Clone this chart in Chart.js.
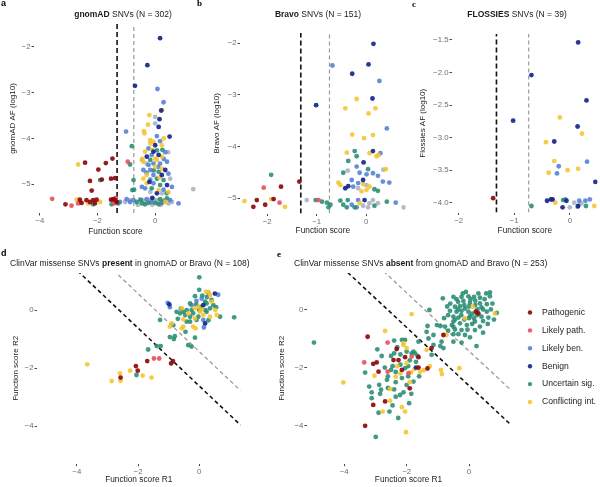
<!DOCTYPE html>
<html><head><meta charset="utf-8">
<script src="https://cdn.jsdelivr.net/npm/chart.js@4/dist/chart.umd.min.js"></script>
<style>
html,body{margin:0;padding:0;background:#fff;}
#fig{position:relative;width:600px;height:487px;overflow:hidden;font-family:"Liberation Sans",Arial,sans-serif;}
canvas{position:absolute;}
.t{position:absolute;font-size:8.5px;color:#1a1a1a;white-space:nowrap;line-height:1;}
.c{transform:translate(-50%,-50%);}
.l{transform:translateY(-50%);}
.lt{position:absolute;font-weight:bold;font-size:9px;color:#000;line-height:1;}
</style></head><body>
<div id="fig">
<canvas id="ca" width="200" height="245" style="left:0;top:0"></canvas>
<canvas id="cb" width="208" height="245" style="left:200px;top:0"></canvas>
<canvas id="cc" width="192" height="245" style="left:408px;top:0"></canvas>
<canvas id="cd" width="250" height="237" style="left:0;top:250px"></canvas>
<canvas id="ce" width="330" height="237" style="left:270px;top:250px"></canvas>
<div class="lt" style="left:1px;top:-1px">a</div>
<div class="lt" style="left:197px;top:-1px;font-family:'Liberation Serif'">b</div>
<div class="lt" style="left:412px;top:0px;font-family:'Liberation Serif'">c</div>
<div class="lt" style="left:1px;top:249px">d</div>
<div class="lt" style="left:277px;top:250px;font-family:'Liberation Serif'">e</div>
<div class="t c" style="left:123px;top:14px"><b>gnomAD</b> SNVs (N = 302)</div>
<div class="t c" style="left:318px;top:14px"><b>Bravo</b> SNVs (N = 151)</div>
<div class="t c" style="left:517px;top:14px"><b>FLOSSIES</b> SNVs (N = 39)</div>
<div class="t l" style="left:10px;top:263px">ClinVar missense SNVs <b>present</b> in gnomAD or Bravo (N = 108)</div>
<div class="t l" style="left:294px;top:263px">ClinVar missense SNVs <b>absent</b> from gnomAD and Bravo (N = 253)</div>
</div>
<script>
// ---------------- data ----------------
const THRESH = [-1.32, -0.74];      // vertical thresholds (black, grey)
const DIAG = [-2.62, -1.43];        // R1 + R2 thresholds (black, grey)

const aXTicks = [-4, -2, 0], aXLabels = ["−4", "−2", "0"];
const aYTicks = [-2, -3, -4, -5], aYLabels = ["−2", "−3", "−4", "−5"];
const bXTicks = [-2, -1, 0], bXLabels = ["−2", "−1", "0"];
const bYTicks = [-2, -3, -4, -5], bYLabels = ["−2", "−3", "−4", "−5"];
const cXTicks = [-2, -1, 0], cXLabels = ["−2", "−1", "0"];
const cYTicks = [-1.5, -2, -2.5, -3, -3.5, -4], cYLabels = ["−1.5", "−2.0", "−2.5", "−3.0", "−3.5", "−4.0"];
const deXTicks = [-4, -2, 0], deXLabels = ["−4", "−2", "0"];
const deYTicks = [0, -2, -4], deYLabels = ["0", "−2", "−4"];

// Panel a: gnomAD [function score, AF log10]
const aPathogenic = [[-2.43,-4.53],[-1.71,-4.54],[-1.48,-4.44],[-1.97,-4.68],[-2.26,-4.93],[-1.85,-4.90],[-1.53,-4.88],[-1.39,-4.87],[-2.20,-5.14],[-3.11,-5.44],[-2.61,-5.34],[-2.38,-5.35],[-2.26,-5.39],[-2.15,-5.35],[-2.03,-5.34],[-2.09,-5.42],[-1.53,-5.34],[-1.39,-5.35],[-1.33,-5.39],[-2.55,-5.41],[-1.45,-5.33]];
const aLikelyPath = [[-3.57,-5.32],[-2.90,-5.47],[-2.67,-5.42],[-1.43,-5.42],[-0.95,-4.51],[-1.36,-5.30]];
const aLikelyBen = [[-1.01,-3.85],[0.06,-3.95],[0.17,-4.06],[-0.23,-4.22],[-0.12,-4.36],[-0.06,-4.55],[0.17,-4.55],[0.41,-4.51],[-0.23,-4.58],[-0.41,-4.69],[-0.17,-4.69],[-0.06,-4.80],[0.46,-4.77],[-0.17,-4.90],[-0.06,-4.98],[-0.35,-5.09],[0.29,-5.12],[0.58,-5.06],[-0.46,-5.06],[-0.99,-5.33],[-0.75,-5.35],[-0.29,-5.33],[-0.12,-5.39],[0.23,-5.41],[0.52,-5.35],[0.81,-5.42],[-1.22,-5.39],[-0.87,-5.39],[0.29,-3.21],[0.08,-2.92],[0.35,-4.30],[-0.30,-4.75],[0.10,-4.62],[0.30,-4.45]];
const aBenign = [[0.17,-1.81],[-0.27,-2.40],[-0.70,-2.85],[0.21,-3.39],[0.15,-3.58],[0.12,-3.75],[0.50,-3.96],[-0.06,-4.29],[0.12,-4.36],[-0.29,-4.40],[0.35,-4.69],[0.23,-4.80],[0.41,-5.02],[0.06,-5.20],[-0.20,-4.95],[0.00,-4.15],[-0.10,-5.30]];
const aUncertain = [[-0.81,-4.17],[-0.87,-4.57],[0.06,-4.26],[-0.17,-4.47],[0.12,-4.73],[0.06,-4.88],[0.29,-4.91],[0.17,-5.02],[-0.12,-5.09],[-0.73,-5.12],[-0.75,-4.91],[-0.79,-5.13],[-1.91,-4.91],[-2.15,-5.44],[-1.51,-5.44],[-1.28,-5.42],[-0.64,-5.39],[-0.46,-5.42],[-0.23,-5.41],[0.00,-5.41],[0.17,-5.33],[0.41,-5.31],[-0.35,-5.44],[0.12,-5.44],[0.25,-4.25],[-0.05,-4.70],[0.40,-5.20],[-0.50,-5.35],[0.30,-5.38]];
const aConflicting = [[0.24,-3.38],[-0.20,-3.49],[-0.39,-3.84],[-0.37,-3.89],[-0.17,-4.04],[-0.06,-4.07],[-0.17,-4.11],[0.23,-4.15],[-0.35,-4.29],[0.00,-4.44],[0.23,-4.40],[0.06,-4.47],[-0.41,-4.51],[0.00,-4.62],[0.23,-4.66],[-0.29,-4.80],[-0.41,-4.88],[-0.29,-4.98],[0.12,-5.13],[0.46,-5.17],[0.35,-5.39],[-2.67,-4.57],[-2.32,-5.42],[-2.72,-5.34],[-1.91,-5.39],[-0.25,-3.70],[0.30,-4.00],[-0.10,-4.25],[0.15,-4.85],[-0.45,-4.45]];
const aOther = [[0.00,-3.53],[0.00,-3.67],[-0.46,-4.47],[0.52,-4.88],[-0.17,-5.17],[0.23,-5.20],[1.32,-5.11],[-1.04,-5.39],[-0.87,-5.35],[-0.52,-5.33],[-0.41,-5.35],[-0.35,-5.39],[-0.17,-5.35],[-0.06,-5.33],[0.06,-5.35],[0.12,-5.39],[0.29,-5.35],[0.46,-5.42],[0.58,-5.39],[-0.60,-5.45],[0.20,-5.45],[-0.10,-5.45],[-0.30,-4.55],[0.45,-4.30]];

// Panel b: Bravo
const bPathogenic = [[-1.72,-4.78],[-2.21,-5.04],[-2.28,-5.17],[-2.04,-5.13],[-1.87,-5.02],[-1.35,-4.68]];
const bLikelyPath = [[-2.07,-4.80],[-1.75,-5.09],[-0.96,-5.04]];
const bLikelyBen = [[-0.68,-2.43],[0.27,-2.73],[0.42,-3.65],[0.29,-4.13],[-0.19,-4.39],[-0.13,-4.51],[0.01,-4.54],[0.14,-4.52],[0.24,-4.57],[-0.16,-4.71],[-0.29,-4.65],[-0.26,-4.78],[0.34,-4.68],[0.47,-4.70],[-0.29,-5.13],[-0.16,-5.04],[-0.19,-5.18],[0.60,-5.09]];
const bBenign = [[0.15,-2.01],[0.05,-2.41],[-0.28,-2.59],[0.13,-3.07],[-1.01,-3.20],[0.14,-4.09],[-0.05,-4.31],[-0.06,-4.65],[-0.36,-4.77],[-0.42,-4.81],[-0.03,-5.04]];
const bUncertain = [[-1.92,-4.55],[-0.23,-4.09],[-0.19,-4.19],[-0.36,-4.28],[-0.46,-4.51],[0.04,-4.44],[0.17,-4.83],[0.24,-4.86],[-1.02,-5.04],[-0.89,-5.07],[-0.79,-5.09],[-0.72,-5.13],[-0.76,-5.18],[-0.52,-5.05],[-0.46,-5.13],[-0.37,-5.04],[-0.39,-5.18],[-0.23,-5.18],[0.17,-5.15],[0.42,-5.07]];
const bConflicting = [[-0.19,-3.08],[-0.42,-3.26],[0.19,-3.26],[0.05,-3.36],[-0.28,-3.77],[-0.04,-3.84],[0.14,-3.78],[-0.39,-4.12],[0.07,-4.13],[0.21,-4.19],[0.25,-4.17],[0.40,-4.44],[-0.56,-4.70],[-0.52,-4.75],[-0.06,-4.73],[0.07,-4.78],[0.01,-4.84],[-0.09,-4.87],[-0.13,-5.10],[-2.46,-5.06],[-1.92,-5.02],[-1.64,-5.17]];
const bOther = [[-1.20,-5.04],[-0.37,-4.47],[-0.16,-4.81],[0.01,-4.75],[-0.06,-5.15],[0.04,-5.18],[0.07,-5.10],[0.14,-5.04],[0.24,-5.10],[0.76,-5.18],[0.35,-4.45]];

// Panel c: FLOSSIES
const cPathogenic = [[-1.38,-3.93]];
const cLikelyPath = [];
const cLikelyBen = [[0.31,-3.37],[-0.20,-3.44],[-0.23,-3.55],[-0.08,-3.95],[0.17,-3.97],[0.14,-4.06],[0.28,-3.97],[0.36,-3.95]];
const cBenign = [[0.15,-1.54],[-0.69,-2.04],[0.30,-2.43],[-1.02,-2.74],[0.14,-2.83],[-0.28,-3.06],[0.46,-3.68],[-0.41,-3.97],[-0.34,-3.95],[-0.31,-3.95],[-0.06,-3.97],[-0.13,-4.07],[0.15,-4.05]];
const cUncertain = [[-0.69,-4.05],[-0.12,-3.96],[0.29,-4.05]];
const cConflicting = [[-0.18,-2.69],[0.22,-2.94],[-0.43,-3.07],[-0.28,-3.36],[-0.38,-3.54],[-0.04,-3.50],[0.15,-3.48],[-0.26,-4.00],[0.44,-4.05]];
const cOther = [[0.00,-4.07],[0.08,-4.00],[0.21,-4.01]];

// Panel d: present in gnomAD or Bravo [R1, R2]
const dPathogenic = [[-2.57,-2.33],[-2.07,-1.93],[-2.01,-2.09],[-1.70,-1.76],[-0.92,-1.84],[-0.86,-1.76]];
const dLikelyPath = [[-1.48,-1.67],[-1.31,-1.67]];
const dLikelyBen = [[-1.03,0.25],[-0.96,0.10],[-0.09,0.32],[0.08,0.40],[0.30,0.57],[-0.25,0.17],[0.13,-0.34],[0.15,-0.60],[0.62,0.53]];
const dBenign = [[-0.98,0.20],[0.13,0.17],[0.19,-0.46],[0.51,0.57]];
const dUncertain = [[0.00,1.13],[-0.14,0.48],[0.19,0.29],[-0.30,0.23],[-0.41,0.00],[-0.52,-0.06],[-0.63,-0.11],[-0.74,-0.06],[-0.46,-0.17],[-0.30,-0.23],[-0.20,-0.11],[-0.03,-0.23],[0.24,-0.06],[0.35,0.06],[0.46,0.17],[0.68,-0.23],[1.14,-0.25],[-0.85,-0.52],[-1.28,-0.34],[-0.96,-0.93],[-0.80,-0.90],[-0.14,-0.95],[-0.36,-1.21],[-0.25,-1.26],[-1.39,-1.24],[-1.26,-1.24],[-1.67,-1.36],[-0.83,-1.00],[-0.25,0.00],[0.05,0.11],[0.24,0.23],[-0.09,-0.34],[-0.30,-0.40],[-0.41,-0.40],[0.10,0.50],[0.40,0.35],[-0.60,0.05],[0.00,0.00],[0.20,0.00],[-0.10,0.20],[0.55,0.10],[-0.70,-0.30],[-0.45,-0.75],[0.30,-0.35],[0.00,0.70],[0.25,0.45],[-2.05,-2.24]];
const dConflicting = [[-3.66,-1.87],[-2.86,-2.45],[-2.57,-2.44],[-2.59,-2.18],[-2.26,-2.09],[-1.85,-2.26],[-1.56,-2.33],[0.22,0.63],[0.35,0.52],[-0.03,0.11],[-0.57,0.06],[0.02,-0.06],[0.13,-0.17],[0.52,0.00],[0.57,-0.17],[-0.20,-0.57],[-0.12,-0.63],[-0.52,-0.57],[-0.57,-0.63],[-0.90,-0.46],[-0.96,-0.57],[-0.14,0.06],[0.41,0.29],[0.08,0.02],[-0.52,-0.32],[-0.36,-0.11],[-0.14,-0.29],[0.35,-0.23],[0.30,0.63]];

// Panel e: absent from gnomAD and Bravo [R1, R2]
const ePathogenic = [[-3.25,-0.94],[-3.07,-1.87],[-2.96,-1.82],[-2.90,-2.14],[-2.32,-1.36],[-2.05,-1.64],[-2.26,-1.74],[-2.42,-1.74],[-2.15,-2.08],[-1.62,-2.00],[-2.69,-3.16],[-3.07,-3.28],[-1.90,-2.71],[-3.33,-4.00],[-0.82,-0.88],[-1.20,-1.33],[-1.62,-1.64],[0.22,-0.08],[0.30,-0.14],[-1.33,-2.03]];
const eLikelyPath = [[-2.61,-1.14],[-3.36,-1.82],[-2.61,-2.14],[-1.94,-2.19],[-1.84,-1.62]];
const eLikelyBen = [];
const eBenign = [[-1.70,-2.00]];
const eUncertain = [[-4.97,-1.14],[-2.40,-1.07],[-2.15,-1.05],[-2.94,-1.37],[-3.33,-2.17],[-2.40,-1.51],[-1.84,-1.51],[-1.73,-1.51],[-2.50,-2.08],[-2.15,-2.36],[-2.05,-2.02],[-2.63,-2.42],[-3.12,-2.85],[-3.12,-3.05],[-2.88,-2.59],[-2.82,-2.76],[-2.35,-3.00],[-2.21,-2.94],[-2.55,-3.51],[-1.92,-3.22],[-2.27,-3.73],[-1.78,-2.48],[-2.99,-4.38],
 [-2.30,-1.30],[-2.00,-1.45],[-1.90,-1.75],[-2.20,-1.90],[-1.95,-2.30],[-2.45,-1.95],[-1.70,-1.80],[-1.60,-2.30],[-2.70,-2.00],[-2.60,-2.70],[-2.00,-2.60],[-2.45,-3.30],[-1.85,-2.90],[-2.90,-3.55],[-3.20,-2.65],[-2.35,-2.50],
 [-2.80,-1.60],[-2.50,-1.60],[-2.20,-1.55],[-1.95,-1.95],[-2.35,-2.15],[-2.60,-2.30],[-2.85,-2.90],[-2.40,-2.75],[-1.65,-1.60],[-2.10,-2.85],
 [-0.84,0.38],[-0.50,0.43],[-0.24,0.43],[-0.02,0.45],[0.16,0.43],[0.67,0.45],[-0.35,0.26],[-0.18,0.29],[0.03,0.23],[0.35,0.21],[0.57,0.18],[-0.45,0.09],[-0.29,0.11],[-0.13,0.03],[0.27,0.00],[0.40,0.07],[-0.61,-0.05],[-0.40,-0.08],[-0.24,-0.05],[-0.02,-0.08],[0.57,-0.08],[-0.67,-0.20],[-0.50,-0.25],[-0.34,-0.28],[0.03,-0.23],[0.16,-0.31],[0.40,-0.25],[0.62,-0.28],[0.89,-0.12],[-0.50,-0.42],[-0.29,-0.48],[-0.07,-0.54],[0.19,-0.42],[0.35,-0.59],[-0.55,-0.54],[-1.33,-0.57],[-1.03,-0.54],[-0.92,-0.57],[-1.27,-0.02],[-0.77,-0.59],[-0.67,-0.73],[-0.45,-0.69],[-0.24,-0.71],[0.19,-0.71],[-0.50,-0.85],[-0.34,-0.85],[-0.13,-0.88],[0.03,-0.96],[-1.36,-0.77],[-1.14,-0.88],[-1.30,-1.00],[-1.62,-1.11],[-0.88,-1.11],[-0.50,-1.11],[-0.24,-1.14],[0.24,-1.26],[-0.82,-1.33],[-0.92,-1.26],[-1.14,-1.22],[-2.05,-1.05],[-1.78,-1.45],[-1.20,-1.56],
 [-0.10,0.60],[0.30,0.55],[0.50,0.35],[-0.60,0.20],[0.10,-0.15],[0.45,-0.40],[-0.15,-0.35],[0.70,0.00],[0.80,-0.35],[-0.40,0.35],[0.20,0.15],[-0.80,-0.30],[0.00,0.10],[-0.25,-0.20],[0.55,0.55],[-0.05,-0.70],[0.45,-0.80],[0.67,0.58],
 [0.05,0.35],[-0.35,0.00],[0.25,-0.20],[-0.15,0.15],[0.45,0.00],[0.10,-0.50],[-0.45,-0.35],[0.60,-0.50],[-0.20,0.55],[0.35,0.40],[-0.70,0.10],[0.00,-0.30],[0.20,0.30],[-0.50,-0.60],[0.75,0.20]];
const eConflicting = [[-2.69,-0.74],[-3.03,-2.28],[-4.03,-2.51],[-2.10,-1.22],[-2.35,-2.31],[-1.86,-2.16],[-1.57,-2.14],[-2.53,-2.73],[-2.53,-3.14],[-2.77,-3.51],[-2.15,-3.36],[-2.05,-3.51],[-2.02,-4.22],[-2.00,-1.85],[-1.75,-2.05],[-2.30,-1.95],[-1.90,-2.50],[-2.20,-2.20],[-1.45,-2.09],[0.12,0.09],[-0.13,-0.31],[0.83,-0.14],[-1.84,-0.16],[-0.72,-0.88],[-1.36,-1.39],[-2.10,-1.16],[-2.00,-1.33],[-1.26,-1.95],[-0.90,-2.08],[-0.87,-2.22],[-0.31,-2.02]];

// ---------------- categories / styling ----------------
const F = "'Liberation Sans', Arial, sans-serif";
const CATS = [
  {key:'other', label:'Other', color:'rgba(165,176,190,0.85)'},
  {key:'likelyBen', label:'Likely ben.', color:'rgba(86,130,214,0.9)'},
  {key:'uncertain', label:'Uncertain sig.', color:'rgba(40,140,115,0.88)'},
  {key:'conflicting', label:'Conflicting int.', color:'rgba(245,196,45,0.88)'},
  {key:'benign', label:'Benign', color:'rgba(22,38,140,0.92)'},
  {key:'likelyPath', label:'Likely path.', color:'rgba(232,78,92,0.9)'},
  {key:'pathogenic', label:'Pathogenic', color:'rgba(140,10,14,0.92)'}
];
const LEGEND_ORDER = ['pathogenic','likelyPath','likelyBen','benign','uncertain','conflicting'];
const LEG = {x: 260, y0: 62.5, dy: 17.9, gap: 12};
const PT_R = 2.4;

const sideLegend = {
  id: 'sideLegend',
  afterDraw(chart) {
    const ctx = chart.ctx;
    ctx.save();
    ctx.font = "8.6px " + F;
    ctx.textBaseline = 'middle';
    LEGEND_ORDER.forEach((k, i) => {
      const c = CATS.find(cc => cc.key === k);
      const y = LEG.y0 + i * LEG.dy;
      ctx.fillStyle = c.color;
      ctx.beginPath(); ctx.arc(LEG.x, y, 2.2, 0, Math.PI * 2); ctx.fill();
      ctx.fillStyle = '#222';
      ctx.fillText(c.label, LEG.x + LEG.gap, y);
    });
    ctx.restore();
  }
};

function panel(id, s) {
  const ds = [];
  s.lines.forEach(l => ds.push({type:'scatter', showLine:true, data:l.data, borderColor:l.color, borderWidth:l.width, borderDash:l.dash, pointRadius:0, pointHoverRadius:0, fill:false, order:5}));
  CATS.forEach((c, i) => {
    const pts = s.data[c.key];
    if (pts && pts.length) ds.push({type:'scatter', label:c.label, data:pts.map(p => ({x:p[0], y:p[1]})), backgroundColor:c.color, borderWidth:0, pointRadius:PT_R, pointHoverRadius:PT_R, order:4 - i * 0.1});
  });
  const axisBase = (ticks, labels) => ({
    type: 'linear',
    afterBuildTicks: sc => { sc.ticks = ticks.map(v => ({value: v})); },
    ticks: {callback: (v, i) => labels[i], color: '#6e6e6e', font: {size: 7.8, family: F}, padding: 1, maxRotation: 0, autoSkip: false},
    grid: {display: true, drawOnChartArea: false, drawTicks: true, tickLength: 2.5, color: '#333', lineWidth: 0.9},
    border: {display: false}
  });
  const x = Object.assign(axisBase(s.xTicks, s.xLabels), {
    min: s.xMin, max: s.xMax,
    afterFit: sc => { sc.height = s.xH; },
    title: {display: true, text: s.xTitle, color: '#222', font: {size: 8.3, family: F}, padding: {top: 0, bottom: s.xTP}}
  });
  const y = Object.assign(axisBase(s.yTicks, s.yLabels), {
    min: s.yMin, max: s.yMax,
    afterFit: sc => { sc.width = s.yW; },
    title: {display: true, text: s.yTitle, color: '#222', font: {size: 8.0, family: F}, padding: {top: s.yTP, bottom: 0}}
  });
  new Chart(document.getElementById(id), {
    type: 'scatter',
    data: {datasets: ds},
    options: {
      responsive: false, animation: false, events: [],
      layout: {padding: s.pad},
      plugins: {legend: {display: false}, tooltip: {enabled: false}},
      scales: {x, y}
    },
    plugins: s.plugins || []
  });
}

function vLines(yMin, yMax) {
  return [
    {data: [{x: THRESH[0], y: yMin}, {x: THRESH[0], y: yMax}], color: '#111', width: 1.6, dash: [5, 3]},
    {data: [{x: THRESH[1], y: yMin}, {x: THRESH[1], y: yMax}], color: '#9a9a9a', width: 1.2, dash: [4, 3]}
  ];
}
function dLines(xMin, xMax) {
  return [
    {data: [{x: xMin, y: DIAG[0] - xMin}, {x: xMax, y: DIAG[0] - xMax}], color: '#111', width: 1.6, dash: [4, 3]},
    {data: [{x: xMin, y: DIAG[1] - xMin}, {x: xMax, y: DIAG[1] - xMax}], color: '#9a9a9a', width: 1.3, dash: [4, 3]}
  ];
}

Chart.defaults.font.family = F;

panel('ca', {xMin: -4.2, xMax: 1.45, yMin: -5.63, yMax: -1.5, xTicks: aXTicks, xLabels: aXLabels, yTicks: aYTicks, yLabels: aYLabels,
  xTitle: 'Function score', yTitle: 'gnomAD AF (log10)', xH: 32, yW: 34, xTP: 8.0, yTP: 8.0, pad: {left: 0, right: 3, top: 24, bottom: 0},
  lines: vLines(-5.63, -1.5),
  data: {pathogenic: aPathogenic, likelyPath: aLikelyPath, likelyBen: aLikelyBen, benign: aBenign, uncertain: aUncertain, conflicting: aConflicting, other: aOther}});

panel('cb', {xMin: -2.55, xMax: 0.8, yMin: -5.3, yMax: -1.8, xTicks: bXTicks, xLabels: bXLabels, yTicks: bYTicks, yLabels: bYLabels,
  xTitle: 'Function score', yTitle: 'Bravo AF (log10)', xH: 31.5, yW: 40, xTP: 9.0, yTP: 11.7, pad: {left: 0, right: 0, top: 33, bottom: 0},
  lines: vLines(-5.3, -1.8),
  data: {pathogenic: bPathogenic, likelyPath: bLikelyPath, likelyBen: bLikelyBen, benign: bBenign, uncertain: bUncertain, conflicting: bConflicting, other: bOther}});

panel('cc', {xMin: -2.12, xMax: 0.5, yMin: -4.15, yMax: -1.41, xTicks: cXTicks, xLabels: cXLabels, yTicks: cYTicks, yLabels: cYLabels,
  xTitle: 'Function score', yTitle: 'Flossies AF (log10)', xH: 32.5, yW: 44, xTP: 9.0, yTP: 10.0, pad: {left: 0, right: 0, top: 34, bottom: 0},
  lines: vLines(-4.15, -1.41),
  data: {pathogenic: cPathogenic, likelyPath: cLikelyPath, likelyBen: cLikelyBen, benign: cBenign, uncertain: cUncertain, conflicting: cConflicting, other: cOther}});

panel('cd', {xMin: -5.3, xMax: 1.35, yMin: -5.3, yMax: 1.28, xTicks: deXTicks, xLabels: deXLabels, yTicks: deYTicks, yLabels: deYLabels,
  xTitle: 'Function score R1', yTitle: 'Function score R2', xH: 23.3, yW: 37, xTP: 2.0, yTP: 10.5, pad: {left: 0, right: 9.4, top: 23, bottom: 0},
  lines: dLines(-5.3, 1.35),
  data: {pathogenic: dPathogenic, likelyPath: dLikelyPath, likelyBen: dLikelyBen, benign: dBenign, uncertain: dUncertain, conflicting: dConflicting}});

panel('ce', {xMin: -5.2, xMax: 1.32, yMin: -5.3, yMax: 1.25, xTicks: deXTicks, xLabels: deXLabels, yTicks: deYTicks, yLabels: deYLabels,
  xTitle: 'Function score R1', yTitle: 'Function score R2', xH: 23.3, yW: 36.8, xTP: 2.0, yTP: 6.5, pad: {left: 0, right: 89.8, top: 23, bottom: 0},
  lines: dLines(-5.2, 1.32), plugins: [sideLegend],
  data: {pathogenic: ePathogenic, likelyPath: eLikelyPath, likelyBen: eLikelyBen, benign: eBenign, uncertain: eUncertain, conflicting: eConflicting}});
</script>
</body></html>
